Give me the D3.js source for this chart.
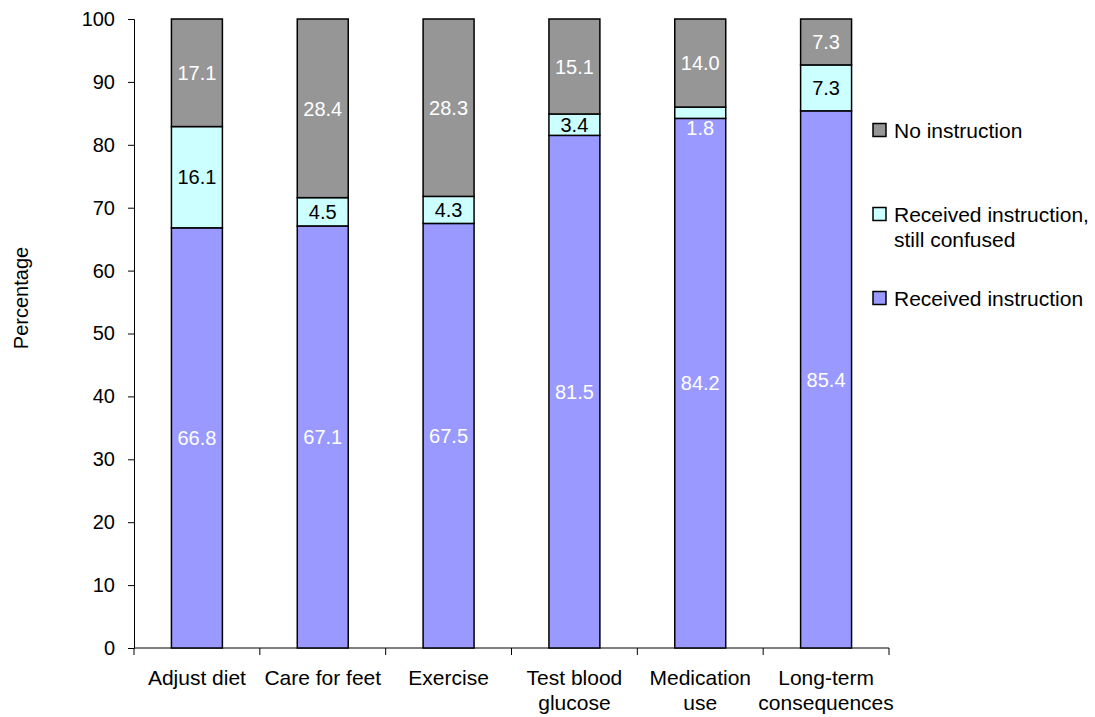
<!DOCTYPE html>
<html><head><meta charset="utf-8">
<script src="https://cdn.jsdelivr.net/npm/d3@7"></script>
<style>body{margin:0;background:#fff}svg{display:block;font-family:"Liberation Sans",Arial,sans-serif}</style>
</head><body><svg id="c" width="1095" height="717"></svg>
<script>
const categories = [["Adjust diet"],["Care for feet"],["Exercise"],["Test blood","glucose"],["Medication","use"],["Long-term","consequences"]];
const received = [66.8, 67.1, 67.5, 81.5, 84.2, 85.4];
const confused = [16.1, 4.5, 4.3, 3.4, 1.8, 7.3];
const noInstr = [17.1, 28.4, 28.3, 15.1, 14.0, 7.3];
const yTicks = [0,10,20,30,40,50,60,70,80,90,100];
const seriesNames = ["Received instruction", "Received instruction, still confused", "No instruction"];
const seriesColors = ["#9999FF", "#CCFFFF", "#969696"];
const labelColors = ["#ffffff", "#000000", "#ffffff"];

(function(){
const svg = d3.select("#c");
const pL = 134, pR = 889, pT = 19, pB = 648;
const x = d3.scaleBand().domain(d3.range(categories.length)).range([pL, pR]).paddingInner(0.595).paddingOuter(0.2975);
const y = d3.scaleLinear().domain([0,100]).range([pB, pT]);

const rows = categories.map((c,i)=>({i, s0: received[i], s1: confused[i], s2: noInstr[i]}));
const stack = d3.stack().keys(["s0","s1","s2"])(rows);

// axes
const yAxis = d3.axisLeft(y).tickValues(yTicks).tickSize(6).tickPadding(13);
const gy = svg.append("g").attr("transform",`translate(${pL},0)`).call(yAxis);
gy.selectAll("text").attr("font-size","20px").attr("fill","#000").attr("font-family","Liberation Sans, Arial, sans-serif");
gy.selectAll("line,path").attr("stroke","#000");

const gx = svg.append("g").attr("transform",`translate(0,${pB})`);
gx.append("line").attr("x1",pL).attr("x2",pR).attr("stroke","#000");
const bounds = d3.range(categories.length+1).map(k=> pL + k*(pR-pL)/categories.length);
gx.selectAll("line.t").data(bounds).enter().append("line").attr("class","t")
  .attr("x1",d=>d).attr("x2",d=>d).attr("y1",0).attr("y2",7).attr("stroke","#000");

// bars
stack.forEach((layer, si)=>{
  svg.append("g").selectAll("rect").data(layer).enter().append("rect")
    .attr("x", d=>x(d.data.i)).attr("width", x.bandwidth())
    .attr("y", d=>y(Math.min(d[1],100))).attr("height", d=>y(d[0])-y(Math.min(d[1],100)))
    .attr("fill", seriesColors[si]).attr("stroke","#000").attr("stroke-width",1.5);
});
stack.forEach((layer, si)=>{
  svg.append("g").selectAll("text").data(layer).enter().append("text")
    .attr("x", d=>x(d.data.i)+x.bandwidth()/2)
    .attr("y", d=>{ const v=d[1]-d[0]; return v<3 ? y(d[0])+9 : y((d[0]+Math.min(d[1],100))/2); })
    .attr("dy","0.36em").attr("text-anchor","middle").attr("font-size","20px")
    .attr("fill", d=> (d[1]-d[0])<3 ? "#ffffff" : labelColors[si])
    .text(d=> (d[1]-d[0]).toFixed(1));
});

// category labels
const cl = svg.append("g");
categories.forEach((lines,i)=>{
  const t = cl.append("text").attr("text-anchor","middle").attr("font-size","21px").attr("fill","#000");
  lines.forEach((ln,k)=> t.append("tspan").attr("x", x(i)+x.bandwidth()/2).attr("y", 684.5 + k*25).text(ln));
});

// y title
svg.append("text").attr("transform","translate(28,298) rotate(-90)").attr("text-anchor","middle")
  .attr("font-size","20px").attr("fill","#000").text("Percentage");

// legend
const legend = [{s:2, y:130, lines:["No instruction"]},{s:1, y:214, lines:["Received instruction,","still confused"]},{s:0, y:298, lines:["Received instruction"]}];
legend.forEach(l=>{
  svg.append("rect").attr("x",873).attr("y",l.y-6.5).attr("width",13).attr("height",13)
    .attr("fill",seriesColors[l.s]).attr("stroke","#000").attr("stroke-width",1.5);
  const t = svg.append("text").attr("font-size","21px").attr("fill","#000");
  l.lines.forEach((ln,k)=> t.append("tspan").attr("x",894).attr("y",l.y+k*25).attr("dy","0.36em").text(ln));
});
})();
</script></body></html>
